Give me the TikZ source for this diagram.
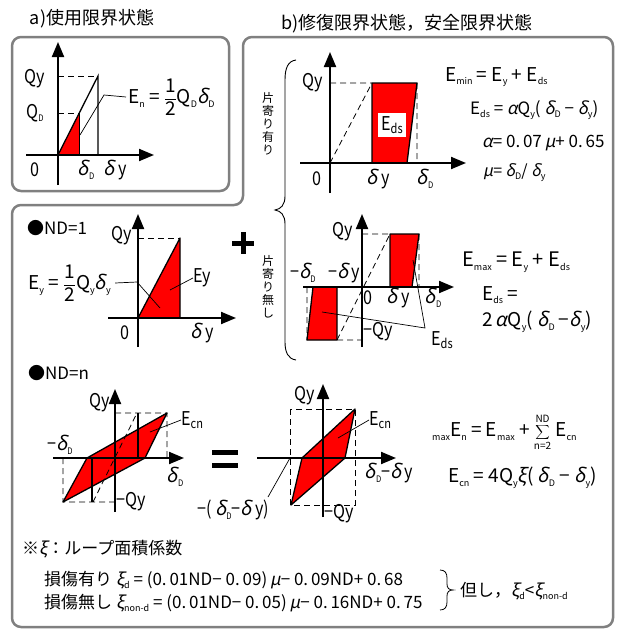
\documentclass[tikz,border=0pt]{standalone}
\usepackage{fontspec}
\setmainfont{Noto Sans CJK JP}
\newfontfamily\nar[FakeStretch=0.85]{Noto Sans CJK JP}
\newfontfamily\gk[FakeSlant=0.2]{Noto Sans CJK JP}
\usetikzlibrary{arrows.meta}

% small lowered index
\newcommand\lo[1]{\raisebox{-0.35ex}{\fontsize{9}{9}\selectfont #1}}
\newcommand\dlt{{\gk δ}}
\newcommand\alp{{\gk α}}
\newcommand\muu{{\gk μ}}
\newcommand\xii{{\gk ξ}}
\newcommand\half{$\displaystyle\frac{\mbox{1}}{\mbox{2}}$}

\tikzset{
  frame/.style={draw=black!50, line width=2.5pt, rounded corners=9pt},
  axis/.style={line width=2pt, -{Triangle[length=15pt,width=12pt]}},
  guide/.style={dash pattern=on 6pt off 4pt, line width=0.8pt},
  loop/.style={fill=red, draw=black, line width=1.3pt, line join=round},
  leader/.style={line width=0.7pt},
  lbl/.style={inner sep=0pt, font=\nar\fontsize{19}{19}\selectfont},
  eq/.style={inner sep=0pt, anchor=west, font=\fontsize{19}{19}\selectfont},
  title/.style={inner sep=0pt, font=\fontsize{18}{18}\selectfont},
  tate/.style={inner sep=0pt, align=center, font=\fontsize{12}{13}\selectfont},
  note/.style={inner sep=0pt, anchor=west, font=\fontsize{17}{17}\selectfont},
}

\begin{document}
\begin{tikzpicture}[x=1pt, y=-1pt]
\useasboundingbox (0,0) rectangle (621,632);

% frames
\draw[frame] (12,37) rectangle (229,191);
\draw[frame] (12,205) -- (243,205) -- (243,37) -- (613,37) -- (613,627) -- (12,627) -- cycle;
\node[title] (ta) at (92,19) {a)使用限界状態};
\node[title] (tb) at (407,24) {b)修復限界状態，安全限界状態};

% ---------- a) serviceability ----------
\fill[red] (58,155) -- (79,113) -- (79,155) -- cycle;
\draw[line width=1pt] (79,113) -- (79,155);
\draw[guide] (58,76) -- (98,76) (58,113) -- (79,113);
\draw[line width=1.3pt] (58,155) -- (98,76) -- (98,155);
\draw[axis] (58,185) -- (58,42);
\draw[axis] (26,155) -- (154,155);
\node[lbl] (aqy) at (35,79) {Qy};
\node[lbl] (aqd) at (35,113) {Q\lo{D}};
\node[lbl] (ao) at (35,170) {0};
\node[lbl] (add) at (86,170) {\dlt\lo{D}};
\node[lbl] (ady) at (115,170) {\dlt\,y};
\node[eq] (aen) at (128,97) {E\lo{n} = \half Q\lo{D}\dlt\lo{D}};
\coordinate (aein) at (80,135);
\draw[leader] (aein) -- (104,95) -- ([xshift=-2pt]aen.west);

% ---------- b) braces and side texts ----------
\draw[line width=0.9pt] (296,60) .. controls (288,61) and (285,68) .. (285,80) -- (285,196)
  .. controls (285,205) and (281,209) .. (275,210) .. controls (281,211) and (285,215) .. (285,224)
  -- (285,342) .. controls (285,352) and (288,359) .. (296,360);
\node[tate] (bias) at (268,124) {片\\寄\\り\\有\\り};
\node[tate] (nobias) at (268,287) {片\\寄\\り\\無\\し};

% ---------- b) one-sided ----------
\draw[guide] (330,163) -- (372,83) (330,83) -- (372,83) (417,83) -- (417,163);
\draw[loop] (372,83) -- (417,83) -- (407,163) -- (372,163) -- cycle;
\draw[axis] (330,193) -- (330,52);
\draw[axis] (300,163) -- (466,163);
\node[lbl, fill=white, inner sep=3pt] (beds) at (392,125) {E\lo{\fontsize{13}{13}\selectfont ds}};
\node[lbl] (bqy) at (313,83) {Qy};
\node[lbl] (bo) at (317,179) {0};
\node[lbl] (bdy) at (378,179) {\dlt\,y};
\node[lbl] (bdd) at (425,179) {\dlt\lo{D}};
\node[eq] (emin) at (445,77) {E\lo{min} = E\lo{y} + E\lo{ds}};
\node[eq, font=\fontsize{17}{17}\selectfont] (edsa) at (470,110) {E\lo{ds} = \alp Q\lo{y}( \dlt\lo{D} − \dlt\lo{y})};
\node[eq, font=\fontsize{17}{17}\selectfont] (alpha) at (482,143) {\alp = 0.\,07\,\muu+ 0.\,65};
\node[eq, font=\fontsize{16}{16}\selectfont] (mu) at (483,173) {\muu = \dlt\lo{D}/ \dlt\lo{y}};

% ---------- ND=1 ----------
\node[eq, font=\fontsize{17}{17}\selectfont] (nd1) at (27,228) {●ND=1};
\draw[loop] (138,318) -- (180,238) -- (180,318) -- cycle;
\draw[guide] (138,238) -- (180,238);
\draw[axis] (138,347) -- (138,214);
\draw[axis] (108,318) -- (236,318);
\node[lbl] (cqy) at (122,236) {Qy};
\node[lbl] (co) at (125,333) {0};
\node[lbl] (cdy) at (202,333) {\dlt\,y};
\node[lbl] (cey) at (202,278) {Ey};
\coordinate (ceyin) at (170,290);
\draw[leader] (ceyin) -- (cey.west);
\node[eq] (eyeq) at (28,283) {E\lo{y} = \half Q\lo{y}\dlt\lo{y}};
\coordinate (eyin) at (160,308);
\draw[leader] ([xshift=4pt]eyeq.east) -- (137,282) -- (eyin);
\draw[line width=5pt] (232,243) -- (254,243) (243,232) -- (243,254);

% ---------- b) two-sided ----------
\draw[guide] (362,234) -- (390,234) (419,234) -- (419,287) (337,340) -- (362,340)
  (307,287) -- (307,340) (337,340) -- (390,234);
\draw[loop] (390,234) -- (419,234) -- (412,287) -- (390,287) -- cycle;
\draw[loop] (313,287) -- (337,287) -- (337,340) -- (307,340) -- cycle;
\draw[axis] (362,347) -- (362,214);
\draw[axis] (303,287) -- (454,287);
\node[lbl] (dqy) at (343,232) {Qy};
\node[lbl, anchor=west] (dmqy) at (363,332) {−Qy};
\node[lbl] (do) at (368,298) {0};
\node[lbl] (ddy) at (398,298) {\dlt\,y};
\node[lbl] (ddd) at (433,298) {\dlt\lo{D}};
\node[lbl] (dmdd) at (303,273) {−\dlt\lo{D}};
\node[lbl] (dmdy) at (344,273) {−\dlt\,y};
\node[lbl, anchor=west] (deds) at (431,340) {E\lo{\fontsize{13}{13}\selectfont ds}};
\coordinate (dj) at (425,328);
\coordinate (dinl) at (322,312);
\coordinate (dinr) at (413,260);
\draw[leader] (dinl) -- (dj) -- (dinr);
\node[eq, font=\fontsize{20}{20}\selectfont] (emax) at (462,262) {E\lo{max} = E\lo{y} + E\lo{ds}};
\node[eq] (edsb) at (482,295) {E\lo{ds} =};
\node[eq] (edsc) at (482,322) {2\,\alp Q\lo{y}( \dlt\lo{D} −\dlt\lo{y})};

% ---------- ND=n ----------
\node[eq, font=\fontsize{17}{17}\selectfont] (ndn) at (28,373) {●ND=n};
\draw[loop] (63,502) -- (87,458) -- (167,413) -- (145,458) -- cycle;
\draw[line width=1.3pt] (138,413) -- (138,458) (92,458) -- (92,502);
\draw[guide] (93,502) -- (137,413) (115,413) -- (167,413) -- (167,458)
  (63,458) -- (63,502) -- (115,502);
\draw[axis] (115,512) -- (115,389);
\draw[axis] (53,458) -- (184,458);
\node[lbl] (eqy) at (100,403) {Qy};
\node[lbl] (emdd) at (60,445) {−\dlt\lo{D}};
\node[lbl] (edd) at (175,477) {\dlt\lo{D}};
\node[lbl, anchor=west] (emqy) at (116,502) {−Qy};
\node[lbl, anchor=west] (eecn) at (181,420) {E\lo{\fontsize{13}{13}\selectfont cn}};
\coordinate (ein) at (150,432);
\draw[leader] (ein) -- (eecn.west);
\draw[line width=5pt] (212,452) -- (238,452) (212,465) -- (238,465);

\draw[guide] (290,409) rectangle (355,505);
\draw[loop] (291,505) -- (302,458) -- (355,409) -- (345,458) -- cycle;
\draw[axis] (323,517) -- (323,384);
\draw[axis] (257,458) -- (396,458);
\node[lbl] (fqy) at (305,396) {Qy};
\node[lbl, anchor=west] (fmqy) at (324,514) {−Qy};
\node[lbl] (fdd) at (389,473) {\dlt\lo{D}−\dlt\,y};
\node[lbl] (fmdd) at (233,510) {−( \dlt\lo{D}−\dlt\,y)};
\coordinate (fcross) at (290,458);
\coordinate (fout) at (268,497);
\draw[leader] (fout) -- (fcross);
\node[lbl, anchor=west] (fecn) at (369,420) {E\lo{\fontsize{13}{13}\selectfont cn}};
\coordinate (fin) at (338,438);
\draw[leader] (fin) -- (fecn.west);
\node[eq] (maxen) at (432,432) {\lo{max}E\lo{n} = E\lo{max} + $\displaystyle\sum_{\mbox{\fontsize{10}{10}\selectfont n=2}}^{\mbox{\fontsize{10}{10}\selectfont ND}}$ E\lo{cn}};
\node[eq] (ecn) at (448,478) {E\lo{cn} = 4Q\lo{y}\xii( \dlt\lo{D} − \dlt\lo{y})};

% ---------- loop area factor ----------
\node[note] (xinote) at (22,549) {※\xii：ループ面積係数};
\node[note] (dmg) at (44,580) {損傷有り\ \xii\lo{d} = (0.\,01ND− 0.\,09)\,\muu− 0.\,09ND+ 0.\,68};
\node[note] (nodmg) at (44,603) {損傷無し\ \xii\lo{non-d} = (0.\,01ND− 0.\,05)\,\muu− 0.\,16ND+ 0.\,75};
\draw[line width=0.8pt] (440,570) .. controls (445,570) and (447,573) .. (447,578) -- (447,584)
  .. controls (447,588) and (449,590) .. (453,590) .. controls (449,590) and (447,592) .. (447,596)
  -- (447,602) .. controls (447,607) and (445,610) .. (440,610);
\node[note] (cond) at (460,591) {但し，\xii\lo{d}<\xii\lo{non-d}};
\end{tikzpicture}
\end{document}
